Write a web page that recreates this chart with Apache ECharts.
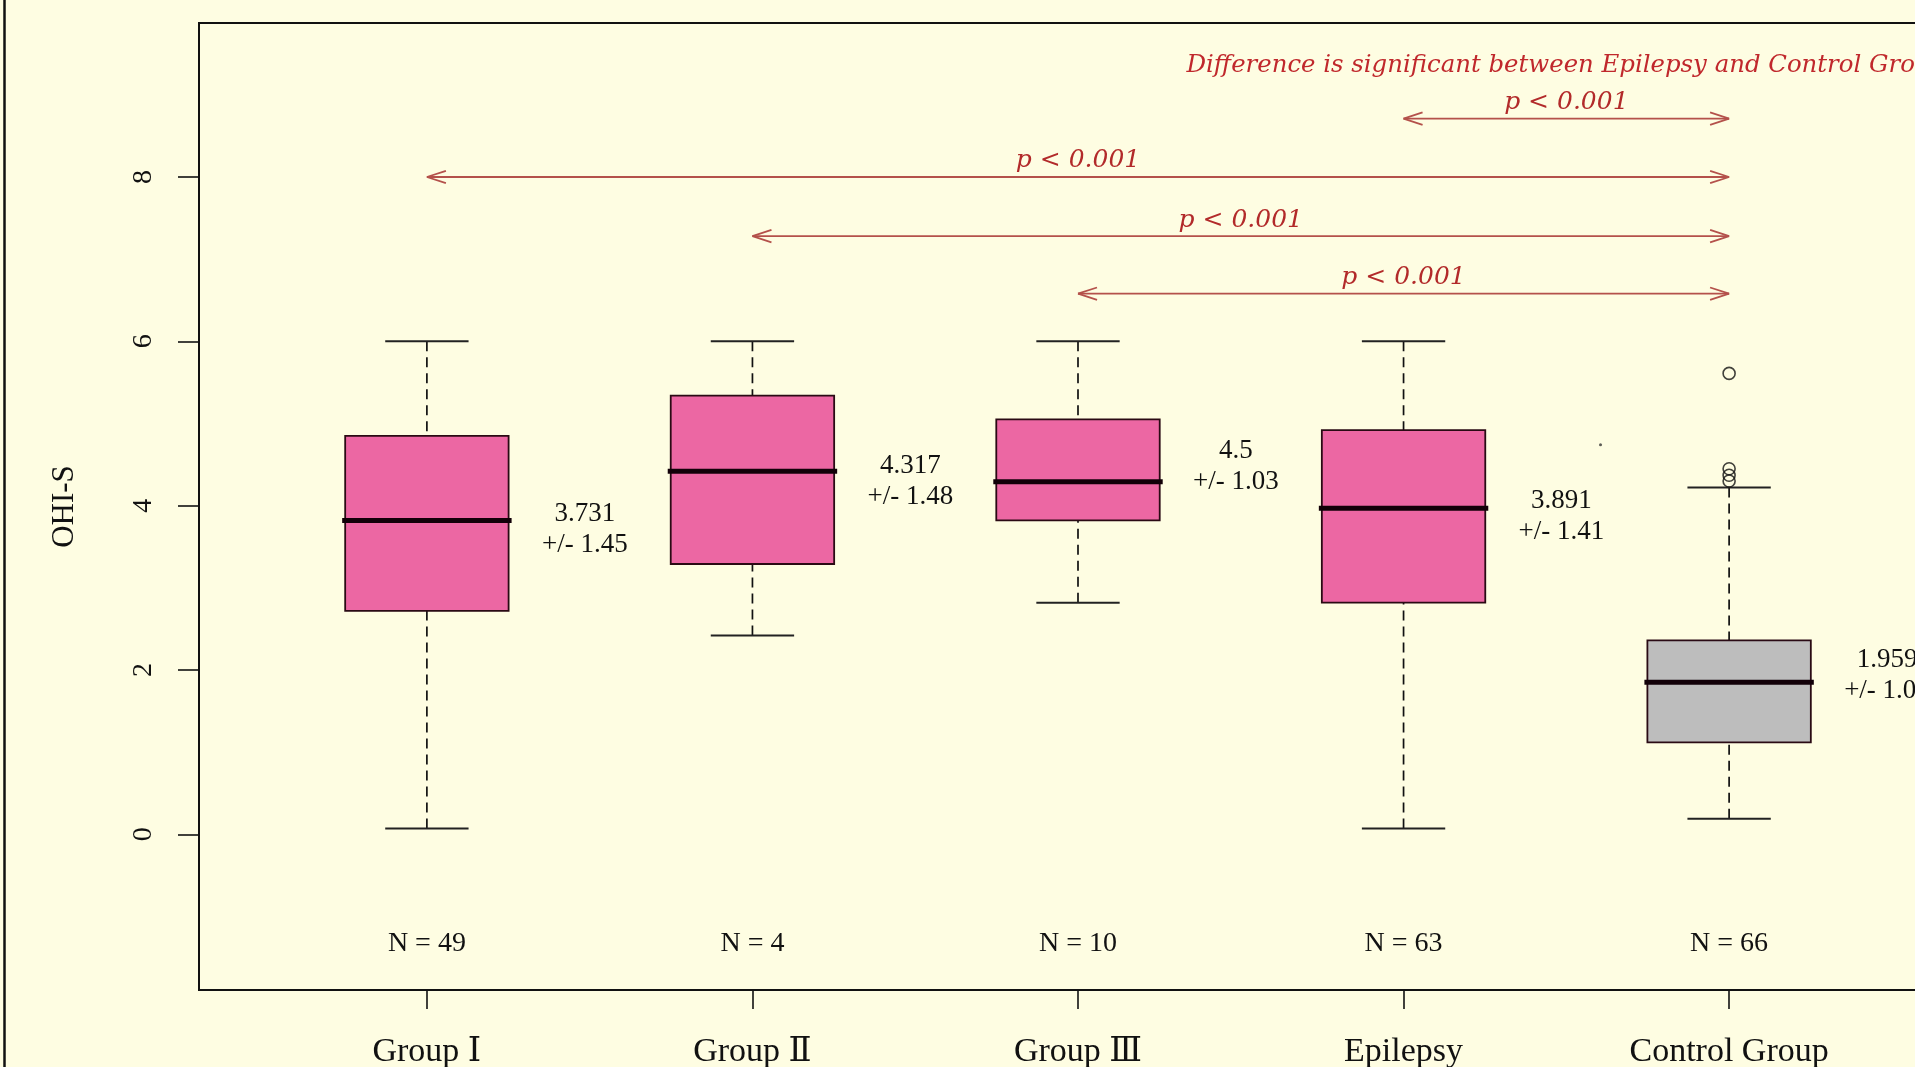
<!DOCTYPE html>
<html><head><meta charset="utf-8">
<script src="https://cdn.jsdelivr.net/npm/echarts@6/dist/echarts.min.js"></script>
<style>html,body{margin:0;padding:0;background:#FEFDE2;} #c{width:1915px;height:1067px;}</style>
</head><body><div id="c"></div>
<script>
// ---- data ----
const categories = ['Group Ⅰ', 'Group Ⅱ', 'Group Ⅲ', 'Epilepsy', 'Control Group'];
const lowerWhisker = [0.07, 2.42, 2.82, 0.07, 0.19];
const q1 = [2.72, 3.29, 3.82, 2.82, 1.12];
const median = [3.82, 4.42, 4.29, 3.97, 1.85];
const q3 = [4.85, 5.34, 5.05, 4.92, 2.36];
const upperWhisker = [6, 6, 6, 6, 4.22];
const outlierGroup = [5, 5, 5, 5];
const outlierValue = [5.61, 4.45, 4.37, 4.30];
const means = [3.731, 4.317, 4.5, 3.891, 1.959];
const sds = ['1.45', '1.48', '1.03', '1.41', '1.08'];
const nCounts = [49, 4, 10, 63, 66];
const yTicks = [0, 2, 4, 6, 8];
const xTicks = [1, 2, 3, 4, 5];
const cmpFrom = [4, 1, 2, 3];
const cmpTo = [5, 5, 5, 5];
const cmpLevel = [8.71, 8.0, 7.28, 6.58];
const cmpLabel = ['p < 0.001', 'p < 0.001', 'p < 0.001', 'p < 0.001'];
const noteText = 'Difference is significant between Epilepsy and Control Group';
const notePos = [4.5, 9.36];
const strayMark = [[4.605, 4.74]];

// ---- styles ----
const BG = '#FEFDE2';
const boxFill = ['#EC67A3', '#EC67A3', '#EC67A3', '#EC67A3', '#BDBDBD'];
const SERIF = "'Liberation Serif', 'DejaVu Serif', serif";
const RED_SERIF = "'DejaVu Serif', 'Liberation Serif', serif";
const INK = '#111';
const ARROW = '#B4514B';
const RED = '#B22A2A';

const boxData = categories.map((c, i) => [i + 1, lowerWhisker[i], q1[i], median[i], q3[i], upperWhisker[i]]);
const meanData = categories.map((c, i) => [i + 1, means[i]]);
const nData = categories.map((c, i) => [i + 1, nCounts[i]]);
const cmpData = cmpFrom.map((f, i) => [f, cmpTo[i], cmpLevel[i]]);
const outlierData = outlierGroup.map((g, i) => [g, outlierValue[i]]);

const chart = echarts.init(document.getElementById('c'), null, {renderer: 'canvas'});

function boxRender(params, api) {
  const x = api.value(0);
  const unit = api.size([1, 0])[0];
  const cx = api.coord([x, 0])[0];
  const yLow = api.coord([x, api.value(1)])[1];
  const yQ1 = api.coord([x, api.value(2)])[1];
  const yMed = api.coord([x, api.value(3)])[1];
  const yQ3 = api.coord([x, api.value(4)])[1];
  const yHigh = api.coord([x, api.value(5)])[1];
  const hw = unit * 0.251, cw = unit * 0.128;
  const dash = {stroke: INK, lineWidth: 1.7, lineDash: [10, 6]};
  const cap = {stroke: '#222', lineWidth: 2};
  return {type: 'group', children: [
    {type: 'line', shape: {x1: cx, y1: yHigh, x2: cx, y2: yQ3}, style: dash},
    {type: 'line', shape: {x1: cx, y1: yLow, x2: cx, y2: yQ1}, style: dash},
    {type: 'line', shape: {x1: cx - cw, y1: yHigh, x2: cx + cw, y2: yHigh}, style: cap},
    {type: 'line', shape: {x1: cx - cw, y1: yLow, x2: cx + cw, y2: yLow}, style: cap},
    {type: 'rect', shape: {x: cx - hw, y: yQ3, width: 2 * hw, height: yQ1 - yQ3},
      style: {fill: boxFill[params.dataIndex], stroke: '#2a0a14', lineWidth: 1.8}},
    {type: 'line', shape: {x1: cx - hw - 3, y1: yMed, x2: cx + hw + 3, y2: yMed},
      style: {stroke: '#120008', lineWidth: 5}}
  ]};
}

function meanRender(params, api) {
  const i = params.dataIndex;
  const p = api.coord([api.value(0) + 0.485, api.value(1)]);
  return {type: 'text', x: p[0], y: p[1] + 2, style: {
    text: String(means[i]) + '\n+/- ' + sds[i], align: 'center', verticalAlign: 'middle',
    font: '27px ' + SERIF, lineHeight: 31, fill: INK}};
}

function nRender(params, api) {
  const p = api.coord([api.value(0), -1.3]);
  return {type: 'text', x: p[0], y: p[1] + 2, style: {
    text: 'N = ' + api.value(1), align: 'center', verticalAlign: 'middle',
    font: '28px ' + SERIF, fill: INK}};
}

function headLines(x, y, dir) {
  const L = 20, a = 18 * Math.PI / 180;
  const dx = Math.cos(a) * L * dir, dy = Math.sin(a) * L;
  return [
    {type: 'line', shape: {x1: x, y1: y, x2: x + dx, y2: y - dy}, style: {stroke: ARROW, lineWidth: 1.8}},
    {type: 'line', shape: {x1: x, y1: y, x2: x + dx, y2: y + dy}, style: {stroke: ARROW, lineWidth: 1.8}}
  ];
}

function cmpRender(params, api) {
  const a = api.coord([api.value(0), api.value(2)]);
  const b = api.coord([api.value(1), api.value(2)]);
  const mx = (a[0] + b[0]) / 2;
  return {type: 'group', children: [
    {type: 'line', shape: {x1: a[0], y1: a[1], x2: b[0], y2: b[1]}, style: {stroke: ARROW, lineWidth: 1.8}},
    ...headLines(a[0], a[1], 1),
    ...headLines(b[0], b[1], -1),
    {type: 'text', x: mx, y: a[1] - 16, style: {
      text: cmpLabel[params.dataIndex], align: 'center', verticalAlign: 'middle',
      font: 'italic 25px ' + RED_SERIF, fill: RED}}
  ]};
}

function noteRender(params, api) {
  const p = api.coord([api.value(0), api.value(1)]);
  return {type: 'text', x: p[0], y: p[1], style: {
    text: noteText, align: 'center', verticalAlign: 'middle',
    font: 'italic 24.4px ' + RED_SERIF, fill: '#C0282C'}};
}

const option = {
  backgroundColor: BG,
  animation: false,
  grid: {left: 199, top: 23, width: 1758, height: 967, show: true, backgroundColor: BG,
    borderColor: INK, borderWidth: 2, containLabel: false, outerBoundsMode: 'none'},
  xAxis: {
    type: 'value', min: 0.3, max: 5.7, position: 'bottom',
    axisLine: {show: false, onZero: false}, splitLine: {show: false},
    axisTick: {show: true, customValues: xTicks, length: 19, lineStyle: {color: INK, width: 1.6}},
    axisLabel: {customValues: xTicks, formatter: v => categories[Math.round(v) - 1],
      margin: 45, fontSize: 34, fontFamily: SERIF, color: INK}
  },
  yAxis: {
    type: 'value', min: -1.894, max: 9.874, position: 'left',
    name: 'OHI-S', nameLocation: 'middle', nameRotate: 90, nameGap: 119,
    nameTextStyle: {fontSize: 31, fontFamily: SERIF, color: INK},
    axisLine: {show: false, onZero: false}, splitLine: {show: false},
    axisTick: {show: true, customValues: yTicks, length: 21, lineStyle: {color: INK, width: 1.6}},
    axisLabel: {customValues: yTicks, rotate: 90, margin: 41, fontSize: 28, fontFamily: SERIF, color: INK}
  },
  graphic: [{type: 'line', shape: {x1: 4.5, y1: 0, x2: 4.5, y2: 1067}, style: {stroke: INK, lineWidth: 2.5}}],
  series: [
    {type: 'custom', name: 'box', coordinateSystem: 'cartesian2d', renderItem: boxRender,
      encode: {x: 0, y: [1, 2, 3, 4, 5]}, data: boxData, z: 3},
    {type: 'scatter', name: 'outliers', data: outlierData, symbol: 'circle', symbolSize: 12,
      itemStyle: {color: 'rgba(0,0,0,0)', borderColor: INK, borderWidth: 1.6}, z: 4},
    {type: 'scatter', name: 'mark', data: strayMark, symbol: 'circle', symbolSize: 3,
      itemStyle: {color: '#333'}, z: 4},
    {type: 'custom', name: 'means', coordinateSystem: 'cartesian2d', renderItem: meanRender,
      encode: {x: 0, y: 1}, data: meanData, z: 5},
    {type: 'custom', name: 'n', coordinateSystem: 'cartesian2d', renderItem: nRender,
      encode: {x: 0}, data: nData, z: 5},
    {type: 'custom', name: 'cmp', coordinateSystem: 'cartesian2d', renderItem: cmpRender,
      encode: {x: [0, 1], y: 2}, data: cmpData, z: 5},
    {type: 'custom', name: 'note', coordinateSystem: 'cartesian2d', renderItem: noteRender,
      encode: {x: 0, y: 1}, data: [notePos], z: 5}
  ]
};
chart.setOption(option);
</script>
</body></html>
